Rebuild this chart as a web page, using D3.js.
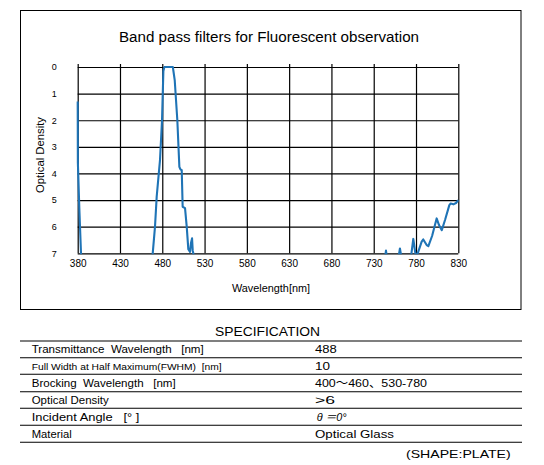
<!DOCTYPE html>
<html><head><meta charset="utf-8">
<script src="https://cdn.jsdelivr.net/npm/d3@7"></script>
<style>body{margin:0;background:#fff}svg{display:block}</style>
</head><body>
<svg id="c" width="544" height="465"></svg>
<script>
// ---- data ----
const title = "Band pass filters for Fluorescent observation";
const xLabel = "Wavelength[nm]";
const yLabel = "Optical Density";
const xTicks = [380,430,480,530,580,630,680,730,780,830];
const yTicks = [0,1,2,3,4,5,6,7];
// measured optical density curve (values >7 lie below the chart floor)
const wavelength = [380,380.2,381.9,383.9,386,466,468.7,471.4,473.4,477.3,479.7,481.3,482.5,492.5,494.7,497.8,500.2,501.5,503,504.1,506.9,508.9,510.8,512.8,514,515.2,516,516.7,518,
  742,744.5,747,758,761,764,773,776.8,779.7,781.5,786.7,788.6,792.6,794.6,799,804.4,807.2,810.5,814.3,819.4,821,824.2,827.3,830];
const density = [1.3,3.6,5.3,7,7.6,7.6,7,6,4.87,3.5,2,0.15,0,0,0.49,2,3.75,3.85,3.88,5.25,5.3,6,6.85,6.95,6.6,6.44,6.9,7,7.6,
  7.5,6.9,7.5,7.4,6.82,7.4,7.4,6.46,7.1,7.05,6.56,6.48,6.69,6.73,6.35,5.69,5.94,6.13,5.75,5.19,5.13,5.16,5.11,5.0];
const specTitle = "SPECIFICATION";
const specLabels = ["Transmittance\u00a0 Wavelength\u00a0 \u00a0[nm]","Full Width at Half Maximum(FWHM)\u00a0 [nm]","Brocking\u00a0 Wavelength\u00a0 \u00a0[nm]","Optical Density","Incident Angle\u00a0 \u00a0[\u00b0 ]","Material"];
const specValues = ["488","10","400\uff5e460\u3001530-780",">6","\u03b8 \uff1d0\u00b0","Optical Glass"];
const shapeNote = "(SHAPE:PLATE)";

// ---- layout ----
const svg = d3.select("#c");
const L=77.7, R=458.3, T=67, B=253.3;
const x = d3.scaleLinear().domain([380,830]).range([L,R]);
const y = d3.scaleLinear().domain([0,7]).range([T,B]);
const sans = "'Liberation Sans', Arial, 'Noto Sans CJK JP', sans-serif";

// outer frame
svg.append("rect").attr("x",20.5).attr("y",10.5).attr("width",500.5).attr("height",299)
  .attr("fill","none").attr("stroke","#000").attr("stroke-width",1);

// title
svg.append("text").attr("x",269).attr("y",42).attr("text-anchor","middle")
  .attr("font-family",sans).attr("font-size",14).attr("textLength",300).attr("lengthAdjust","spacingAndGlyphs")
  .text(title);

// grid via axes
const gx = svg.append("g").attr("transform",`translate(0,${B})`)
  .call(d3.axisBottom(x).tickValues(xTicks).tickSize(-(B-T+3)).tickPadding(7).tickFormat(d3.format("d")));
const gy = svg.append("g").attr("transform",`translate(${L},0)`)
  .call(d3.axisLeft(y).tickValues(yTicks).tickSize(-(R-L)).tickPadding(21).tickFormat(d3.format("d")));
[gx,gy].forEach(g=>{
  g.select(".domain").remove();
  g.selectAll(".tick line").attr("stroke","#000").attr("stroke-width",1.2);
  g.selectAll(".tick text").attr("fill","#000").attr("font-family",sans);
});
gx.selectAll(".tick text").attr("font-size",10);
gy.selectAll(".tick text").attr("font-size",9).attr("text-anchor","middle").attr("x",-23.4);

// axis labels
svg.append("text").attr("x",271).attr("y",292).attr("text-anchor","middle")
  .attr("font-family",sans).attr("font-size",10).attr("textLength",78).attr("lengthAdjust","spacingAndGlyphs").text(xLabel);
svg.append("text").attr("transform","translate(43.5,155) rotate(-90)").attr("text-anchor","middle")
  .attr("font-family",sans).attr("font-size",10).attr("textLength",76).attr("lengthAdjust","spacingAndGlyphs").text(yLabel);

// curve
svg.append("clipPath").attr("id","pc").append("rect")
  .attr("x",L-3).attr("y",T-3).attr("width",R-L+6).attr("height",B-T+4);
const pts = wavelength.map((w,i)=>[w,density[i]]);
svg.append("path").datum(pts).attr("clip-path","url(#pc)")
  .attr("fill","none").attr("stroke","#1f74b6").attr("stroke-width",2.1).attr("stroke-linejoin","round")
  .attr("d", d3.line().x(d=>x(d[0])).y(d=>y(d[1])));

// specification table
svg.append("text").attr("x",267.5).attr("y",336).attr("text-anchor","middle")
  .attr("font-family",sans).attr("font-size",12.5).attr("textLength",105).attr("lengthAdjust","spacingAndGlyphs").text(specTitle);
const rowLines = [341,357.7,374.3,391.7,408.3,425.3,442.3];
svg.selectAll("line.row").data(rowLines).join("line").attr("class","row")
  .attr("x1",20).attr("x2",522).attr("y1",d=>d).attr("y2",d=>d)
  .attr("stroke","#000").attr("stroke-width",1.1);
const labelW = [172,190,144,77,107.6,40];
const valueW = [21.7,15,112,20,30,79];
specLabels.forEach((t,i)=>{
  svg.append("text").attr("x",31.7).attr("y",rowLines[i+1]-4.3)
    .attr("font-family",sans).attr("font-size",i===1?8.5:11.5)
    .attr("textLength",labelW[i]).attr("lengthAdjust","spacingAndGlyphs").text(t);
  svg.append("text").attr("x",i===4?316.7:315).attr("y",rowLines[i+1]-4.3)
    .attr("font-family",sans).attr("font-size",11.5).attr("font-style",i===4?"italic":"normal")
    .attr("textLength",valueW[i]).attr("lengthAdjust","spacingAndGlyphs").text(specValues[i]);
});
svg.append("text").attr("x",406).attr("y",457.5)
  .attr("font-family",sans).attr("font-size",11.5).attr("textLength",104.7).attr("lengthAdjust","spacingAndGlyphs").text(shapeNote);
</script>
</body></html>
